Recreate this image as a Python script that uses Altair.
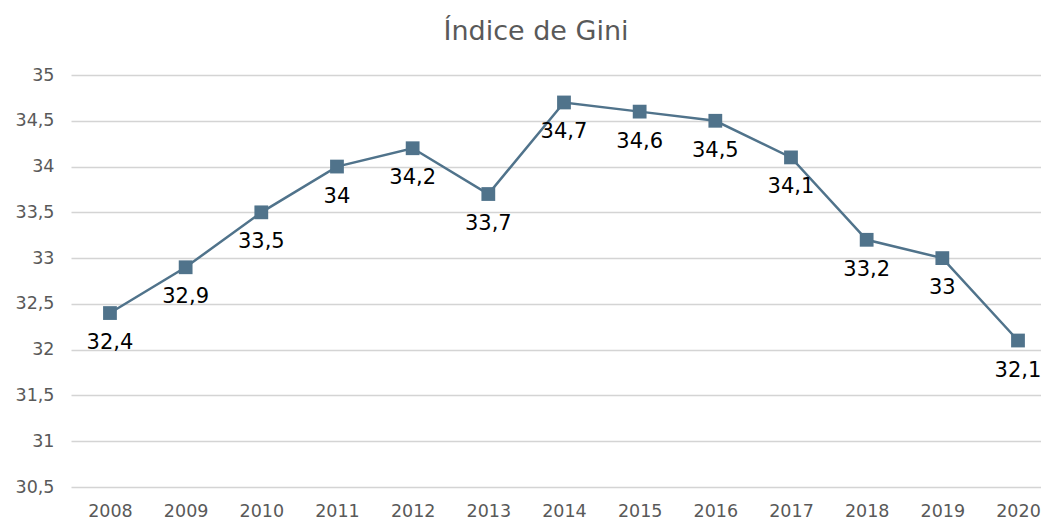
import altair as alt
import pandas as pd

years = [2008, 2009, 2010, 2011, 2012, 2013, 2014, 2015, 2016, 2017, 2018, 2019, 2020]
gini = [32.4, 32.9, 33.5, 34.0, 34.2, 33.7, 34.7, 34.6, 34.5, 34.1, 33.2, 33.0, 32.1]
labels = ["32,4", "32,9", "33,5", "34", "34,2", "33,7", "34,7", "34,6", "34,5", "34,1", "33,2", "33", "32,1"]
y_ticks = [30.5, 31, 31.5, 32, 32.5, 33, 33.5, 34, 34.5, 35]

df = pd.DataFrame({"year": years, "gini": gini, "label": labels})

FONT = "DejaVu Sans"
LINE = "#50738B"

x = alt.X("year:Q",
          scale=alt.Scale(domain=[2007.485, 2020.304], nice=False, zero=False),
          axis=alt.Axis(values=years, format="d", grid=False, domain=False, ticks=False,
                        labelFontSize=17.5, labelColor="#595959", labelFont=FONT,
                        labelPadding=15, title=None))
y = alt.Y("gini:Q",
          scale=alt.Scale(domain=[30.5, 35], nice=False, zero=False),
          axis=alt.Axis(values=y_ticks, grid=True, gridColor="#D4D4D4", gridWidth=1.3,
                        domain=False, ticks=False,
                        labelExpr="replace(format(datum.value, ''), '.', ',')",
                        labelFontSize=17.5, labelColor="#595959", labelFont=FONT,
                        labelPadding=17, title=None))

base = alt.Chart(df)
line = base.mark_line(color=LINE, strokeWidth=2.5).encode(x=x, y=y)
pts = base.mark_point(shape="square", filled=True, size=190, color=LINE, opacity=1).encode(x=x, y=y)
txt = base.mark_text(baseline="middle", align="center", dy=30, fontSize=21, font=FONT,
                     color="#000000").encode(x=x, y=y, text="label:N")

chart = (line + pts + txt).properties(
    width=970, height=412,
    title=alt.TitleParams("Índice de Gini", fontSize=27, font=FONT, color="#595959",
                          fontWeight="normal", anchor="middle", dx=-20, offset=20),
    autosize=alt.AutoSizeParams(type="none"),
    padding={"left": 71, "top": 75, "right": 0, "bottom": 34},
).configure_view(stroke=None)

chart.save("out.html", embed_options={"renderer": "svg", "actions": False})
